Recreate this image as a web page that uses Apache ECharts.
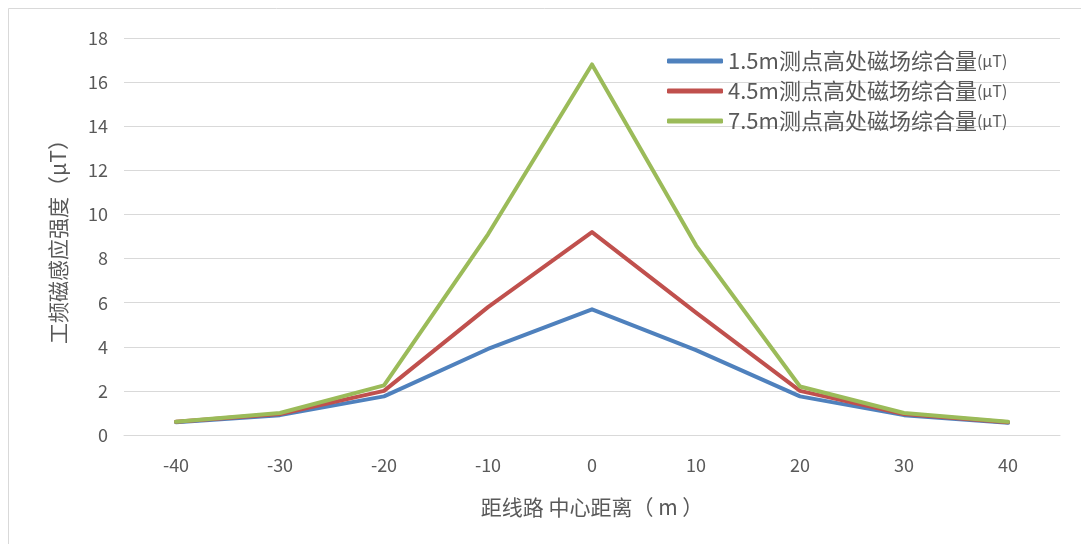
<!DOCTYPE html>
<html>
<head>
<meta charset="utf-8">
<script src="https://cdn.jsdelivr.net/npm/echarts@6/dist/echarts.min.js"></script>
<style>
html,body{margin:0;padding:0;background:#fff;}
#chart{width:1081px;height:544px;}
</style>
</head>
<body>
<div id="chart"></div>
<script>
var categories = ['-40', '-30', '-20', '-10', '0', '10', '20', '30', '40'];
var seriesNames = ['1.5m测点高处磁场综合量(μT)', '4.5m测点高处磁场综合量(μT)', '7.5m测点高处磁场综合量(μT)'];
var values15 = [0.58, 0.9, 1.75, 3.9, 5.7, 3.85, 1.75, 0.9, 0.55];
var values45 = [0.6, 0.95, 2.0, 5.8, 9.2, 5.55, 2.0, 0.95, 0.58];
var values75 = [0.6, 1.0, 2.25, 9.1, 16.8, 8.6, 2.2, 1.0, 0.6];
var yTicks = {min: 0, max: 18, interval: 2};
var colors = ['#4F81BD', '#C0504D', '#9BBB59'];

var font = '"Noto Sans CJK SC", "Noto Sans", sans-serif';
var chart = echarts.init(document.getElementById('chart'));

function makeSeries(name, data, color) {
  return {
    name: name,
    type: 'line',
    data: data,
    symbol: 'none',
    smooth: false,
    color: color,
    lineStyle: {width: 4, color: color, cap: 'round', join: 'round'},
    emphasis: {disabled: true}
  };
}

chart.setOption({
  animation: false,
  backgroundColor: '#fff',
  grid: {left: 124, right: 21, top: 38, bottom: 109},
  legend: {
    orient: 'vertical',
    left: 662,
    top: 45,
    itemWidth: 56,
    itemHeight: 5,
    itemGap: 8,
    icon: 'roundRect',
    data: seriesNames,
    formatter: function (n) {
      return '{a|' + n.replace('(μT)', '') + '}{b|(μT)}';
    },
    textStyle: {
      color: '#595959',
      fontFamily: font,
      padding: [0, 0, 0, 0],
      rich: {
        a: {fontSize: 22, color: '#595959', fontFamily: font, lineHeight: 23},
        b: {fontSize: 16, color: '#595959', fontFamily: font, lineHeight: 23}
      }
    }
  },
  xAxis: {
    type: 'category',
    data: categories,
    boundaryGap: true,
    name: '距线路 中心距离（ m ）',
    nameLocation: 'middle',
    nameGap: 62,
    nameTextStyle: {fontSize: 21, color: '#595959', fontFamily: font},
    axisLine: {show: true, lineStyle: {color: '#d9d9d9', width: 1}},
    axisTick: {show: false},
    axisLabel: {fontSize: 18, color: '#595959', fontFamily: font, margin: 21},
    splitLine: {show: false}
  },
  yAxis: {
    type: 'value',
    min: yTicks.min,
    max: yTicks.max,
    interval: yTicks.interval,
    name: '工频磁感应强度（μT）',
    nameLocation: 'middle',
    nameGap: 55,
    nameTextStyle: {fontSize: 21, color: '#595959', fontFamily: font},
    axisLine: {show: false},
    axisTick: {show: false},
    axisLabel: {fontSize: 18, color: '#595959', fontFamily: font, margin: 16},
    splitLine: {show: true, lineStyle: {color: '#d9d9d9', width: 1}}
  },
  graphic: [
    {type: 'line', shape: {x1: 8.5, y1: 8.5, x2: 1081, y2: 8.5}, style: {stroke: '#d9d9d9', lineWidth: 1}, silent: true},
    {type: 'line', shape: {x1: 8.5, y1: 8.5, x2: 8.5, y2: 544}, style: {stroke: '#d9d9d9', lineWidth: 1}, silent: true}
  ],
  series: [
    makeSeries(seriesNames[0], values15, colors[0]),
    makeSeries(seriesNames[1], values45, colors[1]),
    makeSeries(seriesNames[2], values75, colors[2])
  ]
});
</script>
</body>
</html>
